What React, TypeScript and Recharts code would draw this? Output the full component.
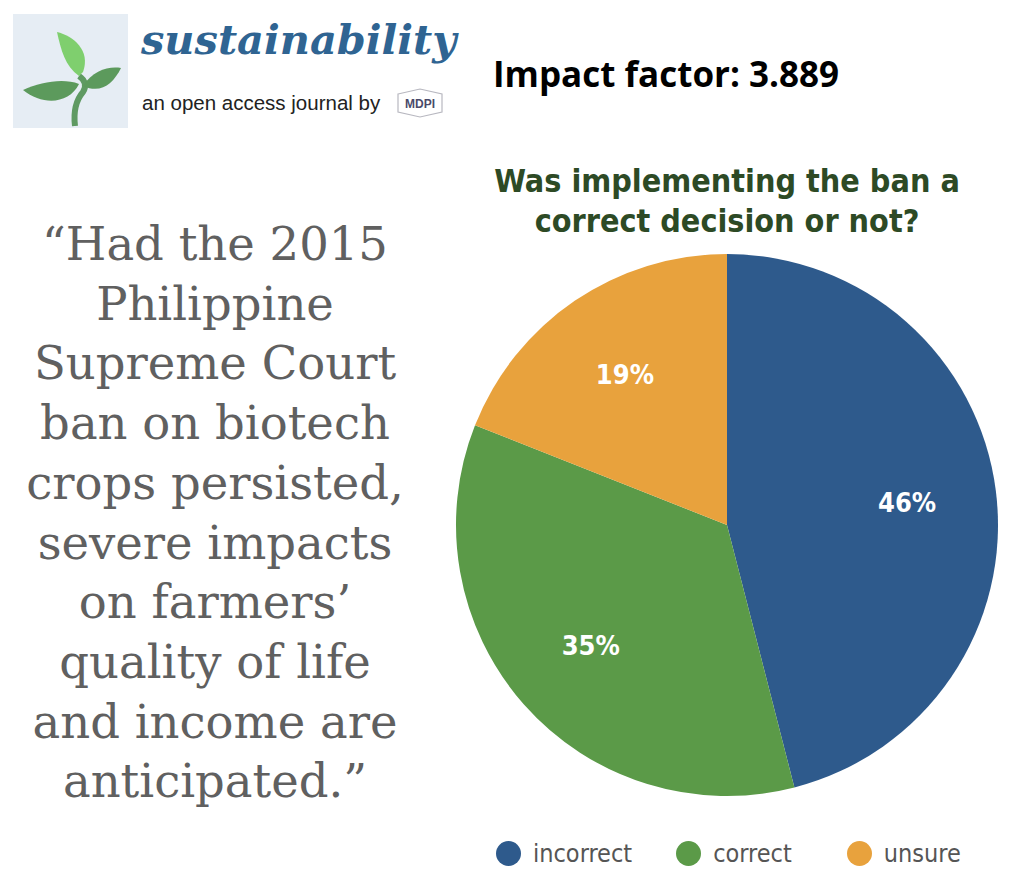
import React from 'react';
import { PieChart, Pie, Cell, Legend } from 'recharts';

const answers = ['incorrect', 'correct', 'unsure'];
const shares = [46, 35, 19];
const colors = ['#2e5a8c', '#5b9a48', '#e8a23d'];

const quoteLines = [
  '\u201cHad the 2015',
  'Philippine',
  'Supreme Court',
  'ban on biotech',
  'crops persisted,',
  'severe impacts',
  'on farmers\u2019',
  'quality of life',
  'and income are',
  'anticipated.\u201d',
];

const data = answers.map((name, i) => ({ name, value: shares[i] }));

const RADIAN = Math.PI / 180;
const condensed = "'DejaVu Sans Condensed', 'DejaVu Sans', sans-serif";
const legendGaps = [44, 55, 0];

const renderLabel = (props: any) => {
  const { cx, cy, midAngle, outerRadius, value } = props;
  const r = outerRadius * 0.67;
  const x = cx + r * Math.cos(-midAngle * RADIAN);
  const y = cy + r * Math.sin(-midAngle * RADIAN);
  return (
    <text x={x} y={y} fill="#ffffff" textAnchor="middle" dominantBaseline="central"
      fontFamily={condensed} fontWeight="bold" fontSize={27}>
      {`${value}%`}
    </text>
  );
};

// legend built straight from the arrays so the order stays incorrect / correct / unsure
const renderLegend = () => (
  <div style={{ display: 'flex', fontFamily: condensed, fontSize: 25, color: '#555555' }}>
    {answers.map((name, i) => (
      <div key={name} style={{ display: 'flex', alignItems: 'center', marginRight: legendGaps[i] }}>
        <span style={{ width: 25, height: 25, borderRadius: '50%', background: colors[i], display: 'inline-block', marginRight: 12 }} />
        <span>{name}</span>
      </div>
    ))}
  </div>
);

const Logo = () => (
  <div style={{ position: 'absolute', left: 13, top: 14, width: 115, height: 114, background: '#e6edf4' }}>
    <svg width={115} height={114}>
      <path d="M62 112 C60 95 64 85 70 78 C74 72 72 66 66 62" stroke="#5f9a62" strokeWidth={6} fill="none" />
      <path d="M66 62 C52 52 48 36 44 18 C60 22 78 36 70 58 Z" fill="#7fcf6e" />
      <path d="M66 70 C50 64 28 68 10 76 C30 92 56 90 66 70 Z" fill="#5c9a5c" />
      <path d="M70 72 C80 56 96 52 108 54 C100 70 88 80 70 72 Z" fill="#5c9a5c" />
    </svg>
  </div>
);

const MdpiMark = () => (
  <svg width={52} height={30} style={{ position: 'absolute', left: 394, top: 88 }}>
    <path d="M4 6 L26 1 L48 6 L48 24 L26 29 L4 24 Z" fill="none" stroke="#b8b8c0" strokeWidth={1.2} />
    <text x={26} y={20} textAnchor="middle" fontFamily="'Liberation Sans', Arial, sans-serif" fontWeight="bold" fontSize={12} fill="#4a4a6a">MDPI</text>
  </svg>
);

export default function App() {
  return (
    <div style={{ position: 'absolute', left: 0, top: 0, width: 1022, height: 892, background: '#ffffff', overflow: 'hidden' }}>
      <Logo />
      <div style={{ position: 'absolute', left: 141, top: 15, fontFamily: "'DejaVu Serif', serif", fontStyle: 'italic', fontWeight: 'bold', fontSize: 41.5, color: '#2f6492', whiteSpace: 'nowrap' }}>
        sustainability
      </div>
      <div style={{ position: 'absolute', left: 142, top: 91, fontFamily: "'Liberation Sans', Arial, sans-serif", fontSize: 20.5, color: '#222222', whiteSpace: 'nowrap' }}>
        an open access journal by
      </div>
      <MdpiMark />
      <div style={{ position: 'absolute', left: 493, top: 50, fontFamily: "'Open Sans', 'DejaVu Sans', sans-serif", fontWeight: 'bold', fontSize: 35, color: '#000000', whiteSpace: 'nowrap' }}>
        Impact factor: 3.889
      </div>
      <div style={{ position: 'absolute', left: 440, top: 161, width: 574, textAlign: 'center', fontFamily: condensed, fontWeight: 'bold', fontSize: 32, lineHeight: '40px', color: '#2d4a25' }}>
        Was implementing the ban a<br />correct decision or not?
      </div>
      <div style={{ position: 'absolute', left: 0, top: 215, width: 430, textAlign: 'center', fontFamily: "'DejaVu Serif', Georgia, serif", fontSize: 46.5, lineHeight: '59.7px', color: '#606060' }}>
        {quoteLines.map((l, i) => (
          <div key={i} style={{ whiteSpace: 'nowrap' }}>{l}</div>
        ))}
      </div>
      <PieChart width={1022} height={892} margin={{ top: 0, right: 0, bottom: 0, left: 0 }} style={{ position: 'absolute', left: 0, top: 0 }}>
        <Pie
          data={data}
          dataKey="value"
          nameKey="name"
          cx={727}
          cy={525}
          outerRadius={271}
          startAngle={90}
          endAngle={-270}
          stroke="none"
          label={renderLabel}
          labelLine={false}
          isAnimationActive={false}
        >
          {data.map((d, i) => (
            <Cell key={d.name} fill={colors[i]} />
          ))}
        </Pie>
        <Legend content={renderLegend} wrapperStyle={{ position: 'absolute', left: 496, top: 839, width: 'auto' }} />
      </PieChart>
    </div>
  );
}
